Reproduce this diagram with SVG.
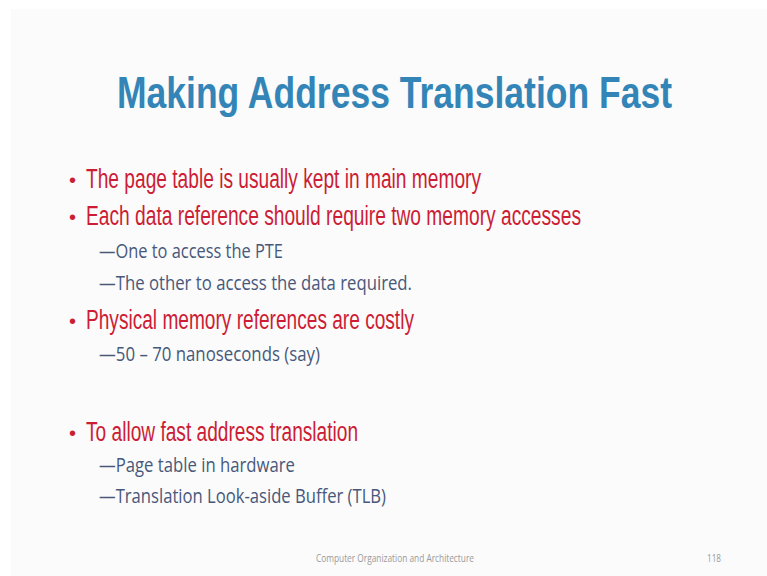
<svg xmlns="http://www.w3.org/2000/svg" width="767" height="576" viewBox="0 0 767 576">
  <style>
    .title { font-family: "Liberation Sans", Arial, sans-serif; font-weight: bold; font-size: 45px; fill: #3485b7; }
    .l1 { font-family: "Liberation Sans", Arial, sans-serif; font-size: 27px; fill: #cc1d35; }
    .dot { font-family: "Liberation Sans", Arial, sans-serif; font-size: 20px; fill: #cc1d35; }
    .l2 { font-family: "Open Sans", "Noto Sans", sans-serif; font-size: 20.5px; fill: #47587a; }
    .foot { font-family: "Open Sans", "Noto Sans", sans-serif; font-size: 10px; fill: #9a9a9a; }
  </style>
  <rect width="767" height="576" fill="#ffffff"/>
  <rect x="11" y="9" width="756" height="567" fill="#fbfbfb"/>

  <!-- condensed headings: horizontal scale applied per line -->
  <g id="title">
    <text class="title" transform="translate(117,108) scale(0.8,1)" textLength="693.75" lengthAdjust="spacingAndGlyphs">Making Address Translation Fast</text>
  </g>

  <g id="bullets">
    <text class="dot" x="69" y="187">•</text>
    <text class="l1" transform="translate(86,188) scale(0.75,1)" textLength="526.7" lengthAdjust="spacingAndGlyphs">The page table is usually kept in main memory</text>
    <text class="dot" x="69" y="224">•</text>
    <text class="l1" transform="translate(86,225) scale(0.75,1)" textLength="660" lengthAdjust="spacingAndGlyphs">Each data reference should require two memory accesses</text>
    <text class="l2" x="99" y="258" textLength="184" lengthAdjust="spacingAndGlyphs">—One to access the PTE</text>
    <text class="l2" x="99" y="290" textLength="313" lengthAdjust="spacingAndGlyphs">—The other to access the data required.</text>
    <text class="dot" x="69" y="328">•</text>
    <text class="l1" transform="translate(86,329) scale(0.75,1)" textLength="437.3" lengthAdjust="spacingAndGlyphs">Physical memory references are costly</text>
    <text class="l2" x="99" y="361" textLength="221" lengthAdjust="spacingAndGlyphs">—50 – 70 nanoseconds (say)</text>
    <text class="dot" x="69" y="440">•</text>
    <text class="l1" transform="translate(86,441) scale(0.75,1)" textLength="362.7" lengthAdjust="spacingAndGlyphs">To allow fast address translation</text>
    <text class="l2" x="99" y="472" textLength="196" lengthAdjust="spacingAndGlyphs">—Page table in hardware</text>
    <text class="l2" x="99" y="503" textLength="287" lengthAdjust="spacingAndGlyphs">—Translation Look-aside Buffer (TLB)</text>
  </g>

  <g id="footer">
    <text class="foot" x="316" y="562" textLength="158" lengthAdjust="spacingAndGlyphs">Computer Organization and Architecture</text>
    <text class="foot" x="707" y="562" textLength="14" lengthAdjust="spacingAndGlyphs">118</text>
  </g>
</svg>
